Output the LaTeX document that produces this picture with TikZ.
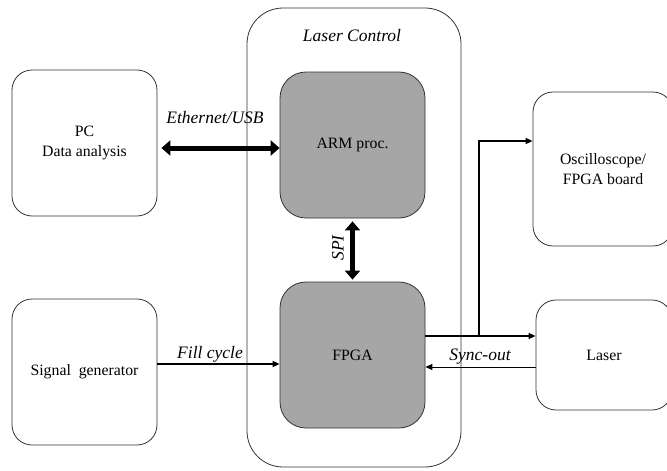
\documentclass[tikz,border=0pt]{standalone}
\usepackage{fontspec}
\setmainfont{Liberation Serif}
\usetikzlibrary{arrows.meta}
\begin{document}
\begin{tikzpicture}[x=1pt,y=-1pt,
  box/.style={draw=black!80,line width=0.8pt,rounded corners=20pt,fill=white,align=center,font=\fontsize{15.8}{20}\selectfont,inner sep=0pt},
  graybox/.style={box,fill=black!35,rounded corners=26pt},
  lbl/.style={font=\fontsize{17.5}{20}\selectfont\itshape},
  bigarrow/.style={line width=5pt,{Triangle[width=15pt,length=9pt]}-{Triangle[width=15pt,length=9pt]}},
  thin/.style={line width=1.6pt,-{Triangle[width=6pt,length=7pt]}}]
\useasboundingbox (0,0) rectangle (667,471);
% enclosing controller
\node[box,rounded corners=36pt,minimum width=214pt,minimum height=459pt] (ctrl) at (354,237.5) {};
\node[lbl] (ctrlt) at (352,36) {Laser Control};
% inner blocks
\node[graybox,minimum width=145pt,minimum height=146pt] (arm) at (352.5,145) {ARM proc.};
\node[graybox,minimum width=145pt,minimum height=146pt] (fpga) at (352.5,355) {FPGA};
% external blocks
\node[box,minimum width=145pt,minimum height=146pt] (pc) at (84.5,143) {PC\\Data analysis};
\node[box,minimum width=145pt,minimum height=146pt] (sig) at (84.5,372) {Signal\ \ generator};
\node[box,minimum width=140pt,minimum height=154pt] (osc) at (603,169) {Oscilloscope/\\FPGA board};
\node[box,minimum width=136pt,minimum height=110pt] (laser) at (604,355) {Laser};
% connections
\draw[bigarrow] ([xshift=4pt]pc.east |- 0,148) coordinate (e1) -- (arm.west |- e1);
\node[lbl] (eth) at (215,118) {Ethernet/USB};
\draw[bigarrow] ([yshift=-3pt]arm.south) -- ([yshift=2pt]fpga.north);
\node[lbl,rotate=90] (spi) at (338,248) {SPI};
\draw[thin] (sig.east |- 0,364) coordinate (f1) -- (fpga.west |- f1);
\node[lbl] (fill) at (210,354) {Fill cycle};
\draw[thin] (fpga.east |- 0,336) coordinate (o1) -- (laser.west |- o1);
\coordinate (br) at (479,336);
\draw[thin] (br) |- (osc.west |- 0,141);
\draw[line width=1pt,-{Triangle[width=6pt,length=7pt]}] (laser.west |- 0,367) coordinate (y1) -- (fpga.east |- y1);
\node[lbl] (sync) at (480,357) {Sync-out};
\end{tikzpicture}
\end{document}
